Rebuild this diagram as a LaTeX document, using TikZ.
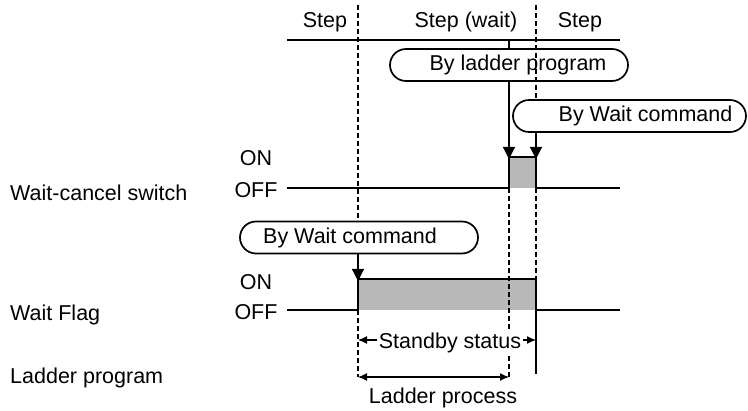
\documentclass[tikz,border=0pt]{standalone}
\usepackage{fontspec}
\setmainfont{Liberation Sans}
\usetikzlibrary{arrows.meta,positioning}
\tikzset{
  lbl/.style={font=\fontsize{21.5}{25}\selectfont,inner sep=0pt},
  pill/.style={draw,line width=1.7pt,rounded corners=16pt,minimum width=238pt,
    minimum height=32pt,inner sep=0pt,font=\fontsize{21.5}{25}\selectfont},
  sig/.style={line width=1.2pt},
  tline/.style={line width=1.3pt,dash pattern=on 5pt off 3pt},
  hatch/.style={fill=black!28},
  dropto/.style={line width=1.2pt,-{Triangle[length=12pt,width=12pt]}},
  span/.style={line width=1.2pt,{Latex[length=9pt,width=8pt]}-{Latex[length=9pt,width=8pt]}},
}

\begin{document}
\begin{tikzpicture}[x=1pt,y=-1pt]
\useasboundingbox (0,0) rectangle (748,411);
% time columns
\coordinate (ta) at (358,5);
\coordinate (tb) at (509,5);
\coordinate (tc) at (536,5);
% header
\node[lbl] (stepA) at (325,22) {Step};
\node[lbl] (stepB) at (466,22) {Step (wait)};
\node[lbl] (stepC) at (580,22) {Step};
\coordinate (hdL) at (287,40);
\coordinate (hdR) at (620,40);
\draw[sig] (hdL) -- (hdR);
% requests
\node[pill] (byLadder) at (509,65) {\hspace*{18pt}By ladder program};
\node[pill,minimum width=233pt] (byWaitA) at (629.5,116) {\hspace*{32pt}By Wait command};
\node[pill] (byWaitB) at (359,237.5) {By Wait command\hspace*{18pt}};
% row labels
\node[lbl,anchor=west] (swName) at (10,193) {Wait-cancel switch};
\node[lbl,anchor=west] (flName) at (10,315) {Wait Flag};
\node[lbl,anchor=west] (lpName) at (10,378) {Ladder program};
\node[lbl] (swOn) at (256,158) {ON};
\node[lbl] (swOff) at (256,190) {OFF};
\node[lbl] (flOn) at (256,282) {ON};
\node[lbl] (flOff) at (256,312) {OFF};
% Wait-cancel switch
\coordinate (swLo) at (287,188);
\coordinate (swEnd) at (620,188);
\coordinate (swUpL) at (509,157);
\coordinate (swUpR) at (536,157);
\fill[hatch] (swUpL) rectangle (swLo -| tc);
\draw[sig] (swLo) -- (swLo -| tb) -- (swUpL) -- (swUpR) -- (swLo -| tc) -- (swEnd);
% Wait Flag
\coordinate (flLo) at (287,310);
\coordinate (flEnd) at (620,310);
\coordinate (flUpL) at (358,279);
\coordinate (flUpR) at (536,279);
\fill[hatch] (flUpL) rectangle (flLo -| tc);
\draw[sig] (flLo) -- (flLo -| ta) -- (flUpL) -- (flUpR) -- (flLo -| tc) -- (flEnd);
% triggers
\draw[sig] (hdL -| tb) -- (byLadder.north -| tb);
\draw[dropto] (byLadder.south -| tb) -- ([yshift=-2pt]swUpL);
\draw[dropto] (byWaitA.south -| tc) -- ([yshift=-2pt]swUpR);
\draw[dropto] (byWaitB.south -| ta) -- ([yshift=-2pt]flUpL);
% step boundaries
\coordinate (lpL) at (358,377);
\coordinate (lpR) at (509,377);
\coordinate (sbL) at (358,340);
\coordinate (sbR) at (536,340);
\draw[tline] (ta) -- (byWaitB.north -| ta);
\draw[tline] (flLo -| ta) -- (lpL);
\draw[tline] (tc) -- (byWaitA.north -| tc);
\draw[tline] (swLo -| tc) -- (flUpR);
\draw[tline] (swLo -| tb) -- (lpR);
\draw[sig] (flLo -| tc) -- ([yshift=3pt]lpR -| tc);
% spans
\draw[span] (sbL) -- (sbR);
\node[lbl,fill=white,inner xsep=2pt,inner ysep=1pt] (sbText) at (450,343) {Standby status};
\draw[span] (lpL) -- (lpR);
\node[lbl] (lpText) at (443,398) {Ladder process};
\end{tikzpicture}
\end{document}
